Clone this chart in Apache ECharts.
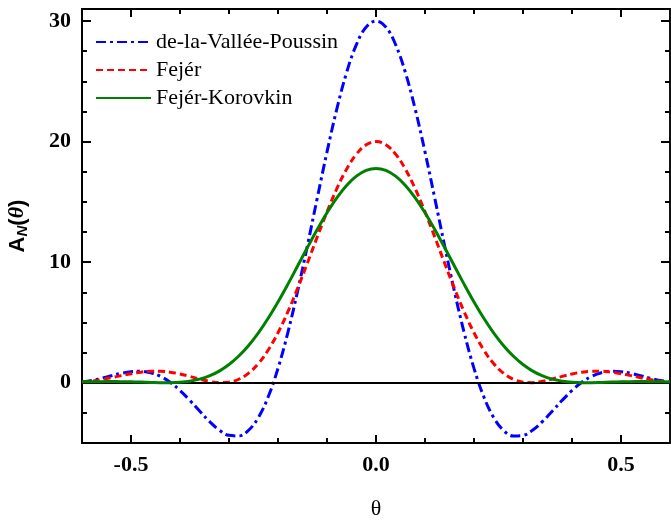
<!DOCTYPE html>
<html>
<head>
<meta charset="utf-8">
<script src="https://cdn.jsdelivr.net/npm/echarts@6/dist/echarts.min.js"></script>
<style>html,body{margin:0;padding:0;background:#fff}#c{width:671px;height:520px}</style>
</head>
<body>
<div id="c"></div>
<script>
const theta = [-0.60,-0.58,-0.56,-0.54,-0.52,-0.50,-0.48,-0.46,-0.44,-0.42,-0.40,-0.38,-0.36,-0.34,-0.32,-0.30,-0.28,-0.26,-0.24,-0.22,-0.20,-0.18,-0.16,-0.14,-0.12,-0.10,-0.08,-0.06,-0.04,-0.02,0.00,0.02,0.04,0.06,0.08,0.10,0.12,0.14,0.16,0.18,0.20,0.22,0.24,0.26,0.28,0.30,0.32,0.34,0.36,0.38,0.40,0.42,0.44,0.46,0.48,0.50,0.52,0.54,0.56,0.58,0.60];
const valleePoussin = [0.067,0.194,0.375,0.583,0.779,0.917,0.949,0.830,0.529,0.033,-0.644,-1.461,-2.348,-3.208,-3.923,-4.366,-4.411,-3.944,-2.878,-1.167,1.192,4.144,7.587,11.367,15.292,19.144,22.697,25.729,28.048,29.503,30.000,29.503,28.048,25.729,22.697,19.144,15.292,11.367,7.587,4.144,1.192,-1.167,-2.878,-3.944,-4.411,-4.366,-3.923,-3.208,-2.348,-1.461,-0.644,0.033,0.529,0.830,0.949,0.917,0.779,0.583,0.375,0.194,0.067];
const fejer = [0.045,0.132,0.261,0.420,0.591,0.751,0.878,0.950,0.951,0.874,0.726,0.525,0.306,0.114,0.007,0.045,0.288,0.791,1.592,2.712,4.148,5.870,7.822,9.926,12.080,14.173,16.090,17.717,18.958,19.735,20.000,19.735,18.958,17.717,16.090,14.173,12.080,9.926,7.822,5.870,4.148,2.712,1.592,0.791,0.288,0.045,0.007,0.114,0.306,0.525,0.726,0.874,0.951,0.950,0.878,0.751,0.591,0.420,0.261,0.132,0.045];
const fejerKorovkin = [0.061,0.078,0.089,0.094,0.088,0.073,0.050,0.024,0.004,0.003,0.037,0.127,0.296,0.567,0.965,1.510,2.217,3.095,4.144,5.353,6.701,8.157,9.678,11.210,12.705,14.101,15.342,16.365,17.133,17.610,17.770,17.610,17.133,16.365,15.342,14.101,12.705,11.210,9.678,8.157,6.701,5.353,4.144,3.095,2.217,1.510,0.965,0.567,0.296,0.127,0.037,0.003,0.004,0.024,0.050,0.073,0.088,0.094,0.089,0.078,0.061];
const seriesNames = ['de-la-Vallée-Poussin','Fejér','Fejér-Korovkin'];
const xMajorTicks = [-0.5, 0, 0.5];
const xMinorTicks = [-0.4,-0.3,-0.2,-0.1,0.1,0.2,0.3,0.4];
const yMajorTicks = [0, 10, 20, 30];
const yMinorTicks = [-2.5,2.5,5,7.5,12.5,15,17.5,22.5,25,27.5];
const zeroLevel = 0;
const xRange = [-0.6, 0.6];
const yRange = [-5, 31];

const pair = (vals) => theta.map((t, i) => [t, vals[i]]);
const serif = 'Liberation Serif';

function xAx(pos, ticks, len, labels, extra) {
  return Object.assign({
    type: 'value', position: pos, min: xRange[0], max: xRange[1],
    axisLine: { show: labels !== null || len > 6, onZero: false, lineStyle: { color: '#000', width: 2 } },
    axisTick: { show: true, inside: true, length: len, customValues: ticks, lineStyle: { color: '#000', width: 2 } },
    axisLabel: labels ? labels : { show: false },
    splitLine: { show: false }
  }, extra || {});
}
function yAx(pos, ticks, len, labels, extra, lw) {
  return Object.assign({
    type: 'value', position: pos, min: yRange[0], max: yRange[1],
    axisLine: { show: true, onZero: false, lineStyle: { color: '#000', width: lw || 2 } },
    axisTick: { show: true, inside: true, length: len, customValues: ticks, lineStyle: { color: '#000', width: 2 } },
    axisLabel: labels ? labels : { show: false },
    splitLine: { show: false }
  }, extra || {});
}

const chart = echarts.init(document.getElementById('c'), null, { renderer: 'canvas' });
chart.setOption({
  animation: false,
  backgroundColor: '#fff',
  grid: { left: 82, right: 1, top: 9, bottom: 77, containLabel: false, outerBoundsMode: 'none' },
  legend: {
    orient: 'vertical', left: 90, top: 26,
    itemWidth: 55, itemHeight: 14, itemGap: 6,
    itemStyle: { opacity: 0 },
    textStyle: { fontFamily: serif, fontSize: 22, color: '#000', lineHeight: 22 },
    data: seriesNames
  },
  xAxis: [
    xAx('bottom', xMajorTicks, 8, {
      show: true, customValues: xMajorTicks, margin: 11,
      formatter: v => v.toFixed(1),
      fontFamily: serif, fontWeight: 'bold', fontSize: 22, color: '#000'
    }, { name: 'θ', nameLocation: 'middle', nameGap: 55, nameTextStyle: { fontFamily: serif, fontSize: 22, color: '#000' } }),
    xAx('bottom', xMinorTicks, 5, null),
    xAx('top', xMajorTicks, 8, null),
    xAx('top', xMinorTicks, 5, null)
  ],
  yAxis: [
    yAx('left', yMajorTicks, 9, {
      show: true, customValues: yMajorTicks, margin: 11,
      fontFamily: serif, fontWeight: 'bold', fontSize: 22, color: '#000'
    }, {
      name: '{a|A}{n|N}{p|(}{t|θ}{p|)}', nameLocation: 'middle', nameGap: 52, nameRotate: 90,
      nameTextStyle: {
        color: '#000',
        rich: {
          a: { fontFamily: 'Liberation Sans', fontWeight: 'bold', fontSize: 22, color: '#000' },
          n: { fontFamily: 'Liberation Sans', fontWeight: 'bold', fontStyle: 'italic', fontSize: 15, color: '#000', padding: [10, 0, 0, 0] },
          p: { fontFamily: 'Liberation Sans', fontWeight: 'bold', fontSize: 22, color: '#000' },
          t: { fontFamily: serif, fontStyle: 'italic', fontWeight: 'bold', fontSize: 22, color: '#000' }
        }
      }
    }),
    yAx('left', yMinorTicks, 5, null),
    yAx('right', yMajorTicks, 9, null, null, 1.5),
    yAx('right', yMinorTicks, 5, null, null, 1.5)
  ],
  series: [
    {
      name: seriesNames[0], type: 'line', data: pair(valleePoussin), showSymbol: false, symbol: 'none', smooth: 0.4,
      lineStyle: { color: '#0000ff', width: 3, type: [10, 4, 3, 4] }, itemStyle: { color: '#0000ff' }, z: 3,
      markLine: {
        silent: true, symbol: 'none', label: { show: false }, animation: false,
        lineStyle: { color: '#000', width: 2, type: 'solid' },
        data: [{ yAxis: zeroLevel }]
      }
    },
    {
      name: seriesNames[1], type: 'line', data: pair(fejer), showSymbol: false, symbol: 'none', smooth: 0.4,
      lineStyle: { color: '#ff0000', width: 3, type: [7, 4] }, itemStyle: { color: '#ff0000' }, z: 4
    },
    {
      name: seriesNames[2], type: 'line', data: pair(fejerKorovkin), showSymbol: false, symbol: 'none', smooth: 0.4,
      lineStyle: { color: '#008000', width: 3, type: 'solid' }, itemStyle: { color: '#008000' }, z: 5
    }
  ]
});
</script>
</body>
</html>
